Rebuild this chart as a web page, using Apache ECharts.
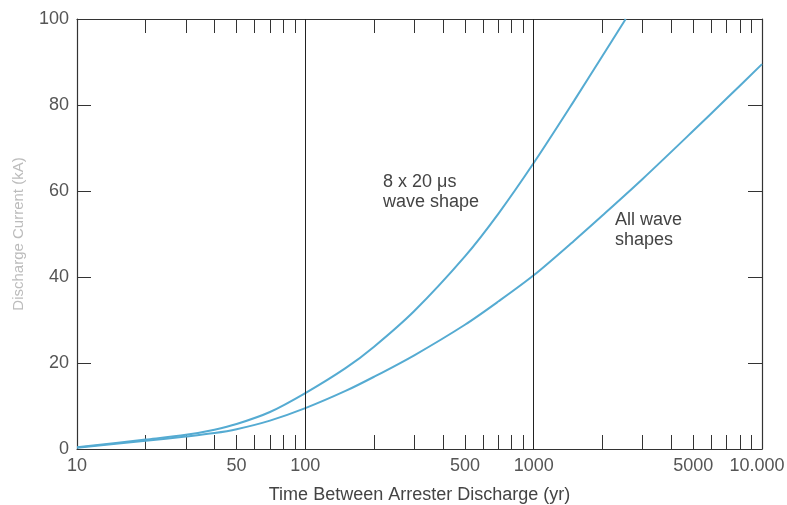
<!DOCTYPE html>
<html>
<head>
<meta charset="utf-8">
<script src="https://cdn.jsdelivr.net/npm/echarts@6/dist/echarts.min.js"></script>
<style>
  html, body { margin: 0; padding: 0; background: #fff; }
  #main { width: 787px; height: 505px; }
</style>
</head>
<body>
<div id="main"></div>
<script>
// 8 x 20 us wave shape
var yearsA = [10, 20, 30, 40, 50, 70, 100, 150, 200, 300, 500, 700, 1000, 1500, 2000, 2530];
var currentA = [0.4, 2.2, 3.3, 4.5, 5.8, 8.6, 13, 18.8, 23.8, 32.1, 44.8, 54.7, 66.5, 80.9, 91.4, 100];
// all wave shapes
var yearsB = [10, 20, 30, 40, 50, 70, 100, 150, 200, 300, 500, 700, 1000, 1500, 2000, 3000, 5000, 7000, 10000];
var currentB = [0.3, 1.9, 2.9, 3.7, 4.6, 6.6, 9.5, 13.5, 16.8, 21.8, 28.9, 34.3, 40.4, 48.4, 54.3, 62.8, 74, 81.5, 89.5];

var xLabelValues = [10, 50, 100, 500, 1000, 5000, 10000];
var xTickValues = [20, 30, 40, 50, 60, 70, 80, 90,
                   200, 300, 400, 500, 600, 700, 800, 900,
                   2000, 3000, 4000, 5000, 6000, 7000, 8000, 9000];
var dividers = [100, 1000];

function pairs(xs, ys) {
  var out = [];
  for (var i = 0; i < xs.length; i++) out.push([xs[i], ys[i]]);
  return out;
}

var myChart = echarts.init(document.getElementById('main'));
var fontFam = "'Liberation Sans', Arial, sans-serif";
var curveColor = '#55abd2';
var axisColor = '#333';

var option = {
  backgroundColor: '#ffffff',
  animation: false,
  grid: { left: 77, right: 25, top: 19, bottom: 56, outerBoundsMode: 'none' },
  xAxis: [
    {
      type: 'log', logBase: 10, min: 10, max: 10000,
      position: 'bottom',
      name: 'Time Between Arrester Discharge (yr)',
      nameLocation: 'middle', nameGap: 37,
      nameTextStyle: { color: '#444', fontSize: 18, fontFamily: fontFam },
      axisLine: { onZero: false, lineStyle: { color: axisColor, width: 1.2 } },
      axisTick: { inside: true, length: 14, customValues: xTickValues, lineStyle: { color: axisColor } },
      axisLabel: {
        customValues: xLabelValues, margin: 8,
        color: '#555', fontSize: 18, fontFamily: fontFam,
        formatter: function (v) { return v === 10000 ? '{last|10.000}' : String(v); },
        rich: { last: { color: '#555', fontSize: 18, fontFamily: fontFam, padding: [0, 10, 0, 0] } }
      },
      splitLine: { show: false }
    },
    {
      type: 'log', logBase: 10, min: 10, max: 10000,
      position: 'top',
      axisLine: { onZero: false, lineStyle: { color: axisColor, width: 1.2 } },
      axisTick: { inside: true, length: 14, customValues: xTickValues, lineStyle: { color: axisColor } },
      axisLabel: { show: false },
      splitLine: { show: false }
    }
  ],
  yAxis: [
    {
      type: 'value', min: 0, max: 100, interval: 20,
      position: 'left',
      name: 'Discharge Current (kA)',
      nameLocation: 'middle', nameGap: 51, nameRotate: 90,
      nameTextStyle: { color: '#bcbcbc', fontSize: 15, fontFamily: fontFam },
      axisLine: { show: true, onZero: false, lineStyle: { color: axisColor, width: 1.2 } },
      axisTick: { show: true, inside: true, length: 14, lineStyle: { color: axisColor } },
      axisLabel: { margin: 8, color: '#555', fontSize: 18, fontFamily: fontFam },
      splitLine: { show: false }
    },
    {
      type: 'value', min: 0, max: 100, interval: 20,
      position: 'right',
      axisLine: { show: true, onZero: false, lineStyle: { color: axisColor, width: 1.2 } },
      axisTick: { show: true, inside: true, length: 14, lineStyle: { color: axisColor } },
      axisLabel: { show: false },
      splitLine: { show: false }
    }
  ],
  series: [
    {
      name: '8 x 20 us wave shape',
      type: 'line', smooth: 0.3, showSymbol: false,
      data: pairs(yearsA, currentA),
      lineStyle: { color: curveColor, width: 2 },
      markLine: {
        silent: true, symbol: 'none',
        label: { show: false },
        lineStyle: { color: '#222', width: 1, type: 'solid' },
        data: dividers.map(function (d) { return { xAxis: d }; })
      }
    },
    {
      name: 'All wave shapes',
      type: 'line', smooth: 0.3, showSymbol: false,
      data: pairs(yearsB, currentB),
      lineStyle: { color: curveColor, width: 2 }
    }
  ],
  graphic: [
    {
      type: 'text', left: 383, top: 172,
      style: { text: '8 x 20 \u03bcs\nwave shape', fill: '#444', font: '18px ' + fontFam, lineHeight: 20 }
    },
    {
      type: 'text', left: 615, top: 210,
      style: { text: 'All wave\nshapes', fill: '#444', font: '18px ' + fontFam, lineHeight: 20 }
    }
  ]
};
myChart.setOption(option);

window.onresize = function () {
  myChart.resize();
};
</script>
</body>
</html>
